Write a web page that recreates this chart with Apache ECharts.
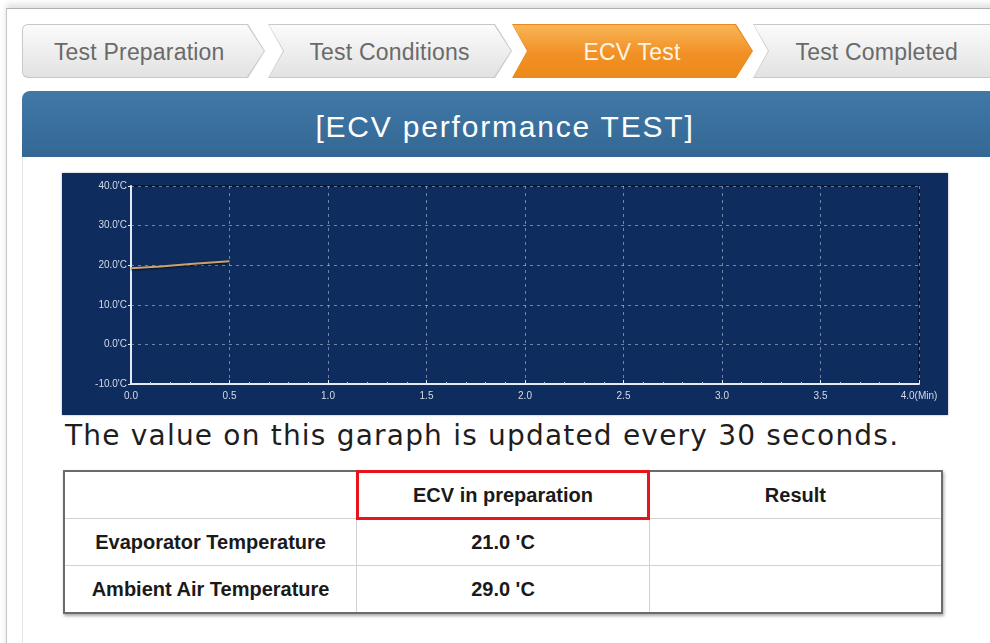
<!DOCTYPE html>
<html>
<head>
<meta charset="utf-8">
<script src="https://cdn.jsdelivr.net/npm/echarts@6/dist/echarts.min.js"></script>
<style>
  html, body { margin: 0; padding: 0; background: #fff; }
  body { width: 990px; height: 643px; position: relative; overflow: hidden; font-family: 'Liberation Sans', Arial, sans-serif; }
  .frame { position: absolute; left: 6px; top: 8px; width: 1000px; height: 700px; border-left: 1px solid #c4c4c4; border-top: 1px solid #b0b0b0; box-shadow: 0 -4px 6px rgba(0,0,0,0.12); }
  .tab { position: absolute; top: 24px; height: 54px; }
  .tab .edge, .tab .fill { position: absolute; left: 0; top: 0; right: 0; bottom: 0; }
  .tab .edge { background: #c8c8c8; }
  .tab .fill { left: 1px; top: 1px; right: 1px; bottom: 1px; background: linear-gradient(#fbfbfb, #e2e2e2); }
  .tab span { position: absolute; left: 0; right: 0; top: 0; line-height: 56px; text-align: center; font-size: 23px; letter-spacing: 0.2px; color: #6a6a6a; }
  .tab.on .edge { background: #e88a1e; }
  .tab.on .fill { background: linear-gradient(#f8b556, #f19025 55%, #ee8a1b); }
  .tab.on span { color: #fff5e4; }
  .header { position: absolute; left: 22px; top: 91px; width: 980px; height: 66px; border-radius: 8px 0 0 0; background: linear-gradient(#4078a8, #346894); color: #fff; }
  .header span { position: absolute; left: 0; width: 966px; top: 0; line-height: 72px; text-align: center; font-size: 30px; letter-spacing: 1.8px; }
  .content-edge { position: absolute; left: 22px; top: 157px; width: 1px; height: 500px; background: #e4e4e4; }
  #chart { position: absolute; left: 62px; top: 173px; width: 886px; height: 242px; box-shadow: 0 0 2px rgba(0,0,0,0.35); }
  .note { position: absolute; left: 65px; top: 419px; font-family: 'DejaVu Sans', sans-serif; font-size: 28px; letter-spacing: 1.2px; color: #1e1e1e; white-space: nowrap; }
  table { position: absolute; left: 63px; top: 470px; width: 880px; border-collapse: collapse; box-shadow: 1px 2px 3px rgba(0,0,0,0.35); border: 2px solid #6b6b6b; }
  td { height: 46px; border: 1px solid #d2d2d2; text-align: center; font-weight: bold; font-size: 20px; color: #1a1a1a; width: 33.3%; padding: 0; }
  td.hl { outline: 3px solid #e8141c; outline-offset: -2px; }
</style>
</head>
<body>
<div class="frame"></div>
<div id="tabs"></div>
<div class="header"><span>[ECV performance TEST]</span></div>
<div class="content-edge"></div>
<div id="chart"></div>
<div class="note">The value on this garaph is updated every 30 seconds.</div>
<table id="tbl"></table>
<script>
// chart data (minutes / evaporator temp)
const timeMin = [0.0, 0.15, 0.3, 0.5];
const evapTemp = [19.2, 19.7, 20.3, 21.0];
const xTickLabels = ['0.0', '0.5', '1.0', '1.5', '2.0', '2.5', '3.0', '3.5', '4.0(Min)'];
const yTickLabels = ["-10.0'C", "0.0'C", "10.0'C", "20.0'C", "30.0'C", "40.0'C"];

// steps and table
const stepNames = ['Test Preparation', 'Test Conditions', 'ECV Test', 'Test Completed'];
const activeStep = 2;
const tableHead = ['', 'ECV in preparation', 'Result'];
const rowLabels = ['Evaporator Temperature', 'Ambient Air Temperature'];
const rowValues = ["21.0 'C", "29.0 'C"];
const rowResults = ['', ''];

// tabs (chevrons)
const tabBox = [[22, 243], [268, 244], [512, 241], [753, 240]];
const tabsEl = document.getElementById('tabs');
stepNames.forEach((name, i) => {
  const [x, w] = tabBox[i];
  const notch = i === 0 ? 0 : 15;
  const pt = i === stepNames.length - 1 ? 0 : 17;
  const poly = `polygon(0 0, ${w - pt}px 0, ${w}px 50%, ${w - pt}px 100%, 0 100%, ${notch}px 50%)`;
  const t = document.createElement('div');
  t.className = 'tab' + (i === activeStep ? ' on' : '');
  t.style.left = x + 'px';
  t.style.width = w + 'px';
  t.innerHTML = `<div class="edge"></div><div class="fill"></div><span>${name}</span>`;
  t.querySelector('.edge').style.clipPath = poly;
  const innerPoly = `polygon(0 0, ${w - 2 - pt}px 0, ${w - 2}px 50%, ${w - 2 - pt}px 100%, 0 100%, ${notch}px 50%)`;
  t.querySelector('.fill').style.clipPath = innerPoly;
  if (i === 0) { t.querySelector('.edge').style.borderRadius = '6px'; t.querySelector('.fill').style.borderRadius = '5px'; }
  t.querySelector('span').style.paddingLeft = (notch / 2) + 'px';
  t.querySelector('span').style.paddingRight = (pt / 2) + 'px';
  tabsEl.appendChild(t);
});

// table
const tbl = document.getElementById('tbl');
let html = '<tr>' + tableHead.map((h, i) => `<td${i === 1 ? ' class="hl"' : ''}>${h}</td>`).join('') + '</tr>';
rowLabels.forEach((lab, i) => {
  html += `<tr><td>${lab}</td><td>${rowValues[i]}</td><td>${rowResults[i]}</td></tr>`;
});
tbl.innerHTML = html;

// chart
const chart = echarts.init(document.getElementById('chart'));
const axisText = { color: '#d4dbe8', fontSize: 10, fontFamily: 'Arial' };
const option = {
  backgroundColor: '#0f2c5f',
  animation: false,
  grid: {
    left: 69, right: 29, top: 13, bottom: 31,
    show: true, borderColor: '#081838', borderWidth: 2
  },
  xAxis: {
    type: 'value',
    min: 0, max: 4, interval: 0.5,
    axisLine: { show: true, onZero: false, lineStyle: { color: '#e6ebf3', width: 2 } },
    axisTick: { show: true, inside: true, length: 4, lineStyle: { color: '#e6ebf3' } },
    minorTick: { show: true, splitNumber: 5, length: 2, lineStyle: { color: '#c9d2e2' } },
    axisLabel: {
      ...axisText, margin: 7,
      formatter: (v) => xTickLabels[Math.round(v / 0.5)]
    },
    splitLine: { show: true, lineStyle: { color: 'rgba(190,205,230,0.55)', type: [3, 4], width: 1 } }
  },
  yAxis: {
    type: 'value',
    min: -10, max: 40, interval: 10,
    axisLine: { show: true, onZero: false, lineStyle: { color: '#e6ebf3', width: 2 } },
    axisTick: { show: true, length: 3, lineStyle: { color: '#e6ebf3' } },
    axisLabel: {
      ...axisText, margin: 4,
      formatter: (v) => yTickLabels[Math.round((v + 10) / 10)]
    },
    splitLine: { show: true, lineStyle: { color: 'rgba(190,205,230,0.55)', type: [3, 4], width: 1 } }
  },
  series: [{
    type: 'line',
    data: timeMin.map((t, i) => [t, evapTemp[i]]),
    showSymbol: false,
    lineStyle: { color: '#caa46b', width: 2, shadowColor: 'rgba(0,0,0,0.7)', shadowBlur: 2, shadowOffsetY: 1 }
  }]
};
chart.setOption(option);
</script>
</body>
</html>
